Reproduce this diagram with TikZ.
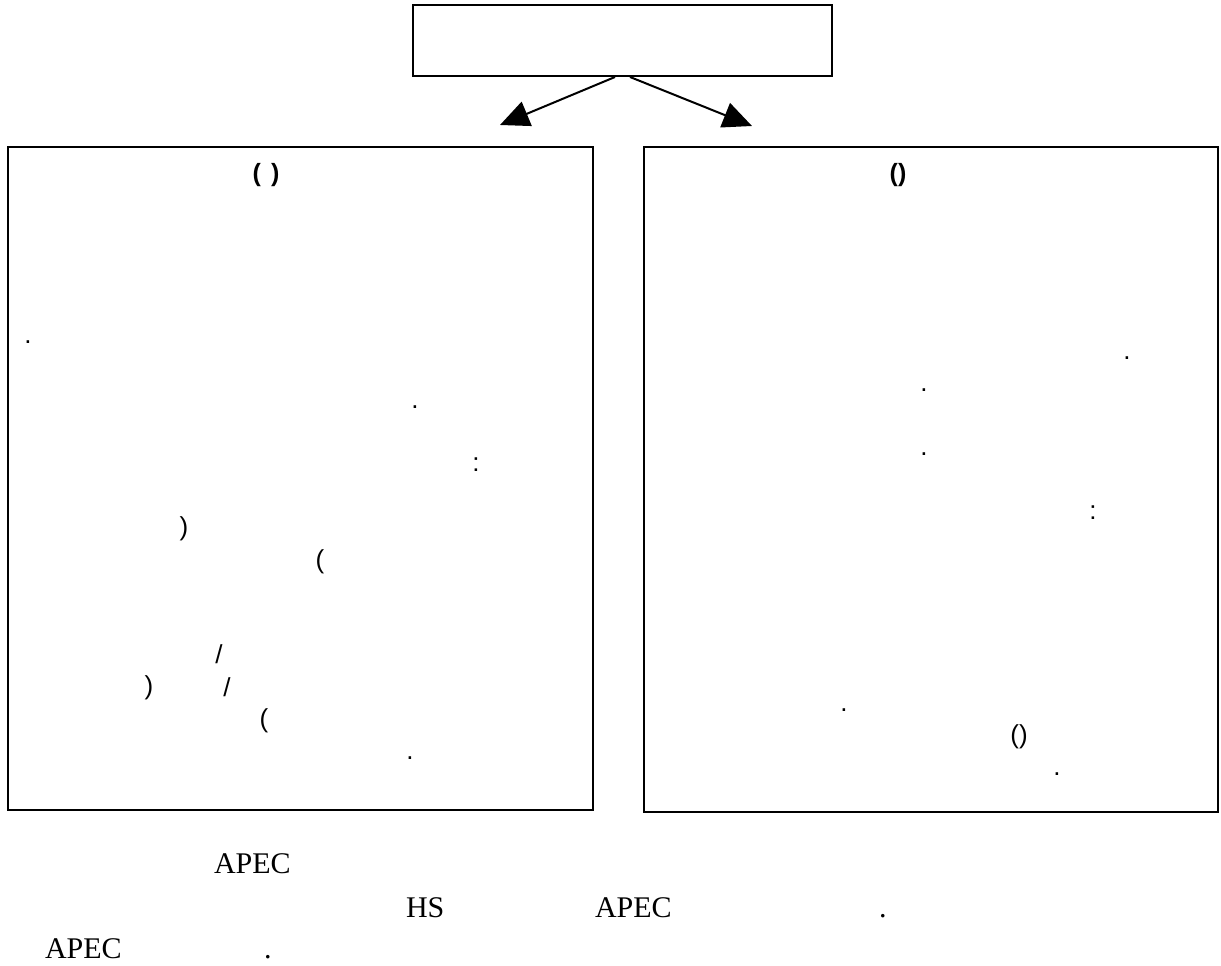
\documentclass[tikz,border=0pt]{standalone}
\usepackage{fontspec}
\setmainfont{Liberation Serif}
\newfontfamily\boxfont{Liberation Sans}
\usetikzlibrary{arrows.meta}
\tikzset{
  frame/.style={draw=black, line width=2pt, fill=none, inner sep=0pt},
  conn/.style={draw=black, line width=2pt, -{Triangle[length=29pt,width=26pt]}},
  glyph/.style={inner sep=0pt, outer sep=0pt, anchor=center, font=\boxfont\fontsize{26}{30}\selectfont},
  title/.style={glyph, font=\boxfont\bfseries\fontsize{25}{29}\selectfont},
  foot/.style={inner sep=0pt, outer sep=0pt, anchor=base west, font=\fontsize{30}{34}\selectfont}
}
\begin{document}
\begin{tikzpicture}[x=1pt,y=-1pt]
\useasboundingbox (0,0) rectangle (1221,966);
% boxes
\node[frame, minimum width=419pt, minimum height=71pt] (top) at (622.5,40.5) {};
\node[frame, minimum width=585pt, minimum height=663pt] (left) at (300.5,478.5) {};
\node[frame, minimum width=574pt, minimum height=665pt] (right) at (931,479.5) {};
% arrows
\coordinate (lt) at (500,125);
\coordinate (rt) at (752,126);
\draw[conn] ([xshift=-7.5pt]top.south) -- (lt);
\draw[conn] ([xshift=7.5pt]top.south) -- (rt);
% left box texts
\node[title] (ltitle) at (266,175) {(\hspace{10pt})};
\node[glyph] (l1) at (28,342) {.};
\node[glyph] (l2) at (415,407) {.};
\node[glyph] (l3) at (476,465) {:};
\node[glyph] (l4) at (184,529) {)};
\node[glyph] (l5) at (320,562) {(};
\node[glyph] (l6) at (219,654) {/};
\node[glyph] (l7) at (149,688) {)};
\node[glyph] (l8) at (227,687) {/};
\node[glyph] (l9) at (264,721) {(};
\node[glyph] (l10) at (410,758) {.};
% right box texts
\node[title] (rtitle) at (898,175) {()};
\node[glyph] (r1) at (1127,358) {.};
\node[glyph] (r2) at (924,390) {.};
\node[glyph] (r3) at (924,454) {.};
\node[glyph] (r4) at (1093,513) {:};
\node[glyph] (r5) at (844,710) {.};
\node[glyph] (r6) at (1019,737) {()};
\node[glyph] (r7) at (1057,774) {.};
% text below
\node[foot] (f1) at (214,873) {APEC};
\node[foot] (f2) at (406,917) {HS};
\node[foot] (f3) at (595,917) {APEC};
\node[foot] (f4) at (879,917) {.};
\node[foot] (f5) at (45,958) {APEC};
\node[foot] (f6) at (264,958) {.};
\end{tikzpicture}
\end{document}
